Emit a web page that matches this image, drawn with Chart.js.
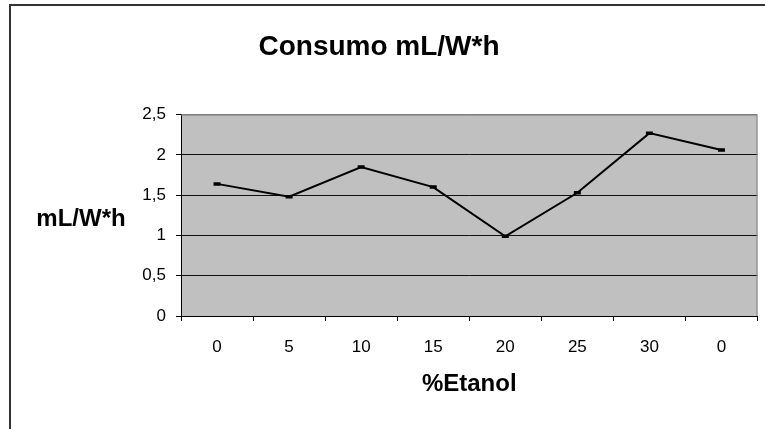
<!DOCTYPE html>
<html>
<head>
<meta charset="utf-8">
<title>Consumo mL/W*h</title>
<script src="https://cdn.jsdelivr.net/npm/chart.js@4/dist/chart.umd.min.js"></script>
<style>
  html, body { margin: 0; padding: 0; background: #fff; overflow: hidden; }
  #wrap { position: relative; width: 765px; height: 429px; }
  #frame {
    position: absolute; left: 9px; top: 4px; width: 900px; height: 600px;
    border-left: 2px solid #333; border-top: 2px solid #333;
  }
  #chart { position: absolute; left: 0; top: 0; }
</style>
</head>
<body>
<div id="wrap">
  <div id="frame"></div>
  <canvas id="chart" width="765" height="429"></canvas>
</div>
<script>
// ── Data ────────────────────────────────────────────────
const categories  = ['0', '5', '10', '15', '20', '25', '30', '0'];
const consumo     = [1.64, 1.48, 1.85, 1.60, 0.99, 1.53, 2.27, 2.06];
const yTickLabels = ['0', '0,5', '1', '1,5', '2', '2,5'];

const FONT = "'Liberation Sans', Arial, sans-serif";

// gray plot area + gray top/right border, horizontal y-axis title
const plotFrame = {
  id: 'plotFrame',
  beforeDraw(chart) {
    const { ctx, chartArea: a } = chart;
    ctx.save();
    ctx.fillStyle = '#C0C0C0';
    ctx.fillRect(a.left, a.top, a.right - a.left, a.bottom - a.top);
    ctx.restore();
  },
  afterDatasetsDraw(chart) {
    const { ctx, chartArea: a } = chart;
    ctx.save();
    ctx.strokeStyle = '#808080';
    ctx.lineWidth = 1;
    ctx.beginPath();
    ctx.moveTo(a.left, a.top + 0.5);
    ctx.lineTo(a.right - 0.5, a.top + 0.5);
    ctx.lineTo(a.right - 0.5, a.bottom);
    ctx.stroke();
    ctx.fillStyle = '#000';
    ctx.font = 'bold 24px ' + FONT;
    ctx.textAlign = 'center';
    ctx.textBaseline = 'middle';
    ctx.fillText('mL/W*h', 81, 219);
    ctx.restore();
  }
};

new Chart(document.getElementById('chart'), {
  type: 'line',
  data: {
    labels: categories,
    datasets: [{
      label: 'Consumo',
      data: consumo,
      borderColor: '#000',
      borderWidth: 2,
      tension: 0,
      pointStyle: 'line',
      pointRadius: 3.5,
      pointBorderWidth: 3.5,
      pointBorderColor: '#000',
      pointBackgroundColor: '#000',
      fill: false
    }]
  },
  options: {
    responsive: false,
    animation: false,
    layout: { padding: { left: 0, right: 7, top: 0, bottom: 0 } },
    plugins: {
      legend: { display: false },
      tooltip: { enabled: false },
      title: {
        display: true,
        text: 'Consumo mL/W*h',
        color: '#000',
        font: { family: FONT, size: 28, weight: 'bold' },
        padding: { top: 30, bottom: 51 }
      }
    },
    scales: {
      x: {
        offset: true,
        grid: {
          offset: true,
          drawOnChartArea: false,
          drawTicks: true,
          tickLength: 5,
          tickColor: '#000'
        },
        border: { color: '#000', width: 1 },
        ticks: {
          color: '#000',
          padding: 16,
          maxRotation: 0,
          autoSkip: false,
          font: { family: FONT, size: 17 }
        },
        title: {
          display: true,
          text: '%Etanol',
          color: '#000',
          font: { family: FONT, size: 24, weight: 'bold' },
          padding: { top: 12, bottom: 30 }
        },
        afterFit: s => { s.height = 113; }
      },
      y: {
        min: 0,
        max: 2.5,
        grid: {
          color: ctx => (ctx.tick && ctx.tick.value === 2.5 ? '#808080' : '#111'),
          lineWidth: 1,
          drawTicks: true,
          tickLength: 5,
          tickColor: '#000'
        },
        border: { color: '#000', width: 1 },
        ticks: {
          stepSize: 0.5,
          color: '#000',
          padding: 10,
          font: { family: FONT, size: 17 },
          callback: (v, i) => yTickLabels[i]
        },
        afterFit: s => { s.width = 181; }
      }
    }
  },
  plugins: [plotFrame]
});
</script>
</body>
</html>
